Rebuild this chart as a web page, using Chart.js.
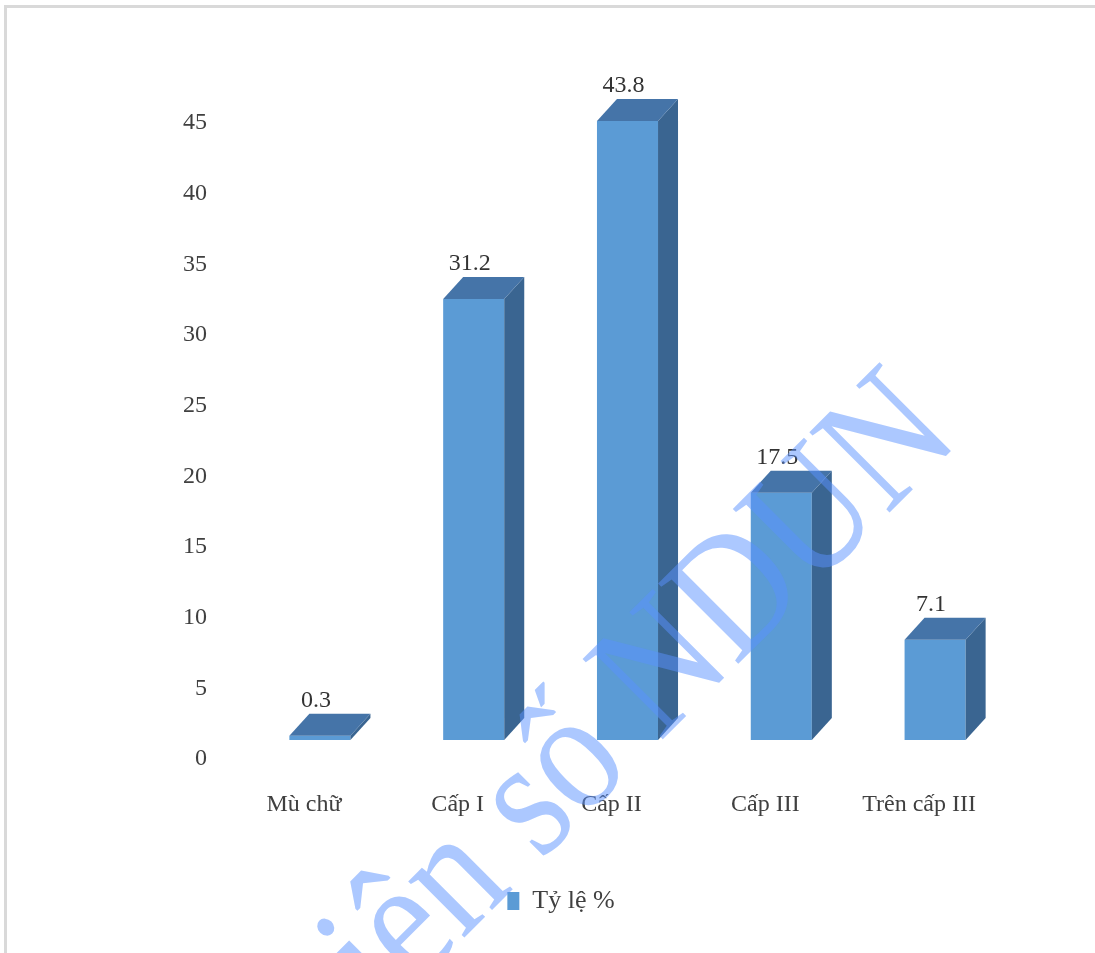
<!DOCTYPE html>
<html>
<head>
<meta charset="utf-8">
<script src="https://cdn.jsdelivr.net/npm/chart.js@4.4.1/dist/chart.umd.min.js"></script>
<style>
html, body { margin: 0; padding: 0; background: #fff; }
#frame { position: absolute; left: 4px; top: 5px; width: 1100px; height: 960px; border-top: 3px solid #d9d9d9; border-left: 3px solid #d9d9d9; box-sizing: border-box; }
#wrap { position: absolute; left: 0; top: 0; width: 1095px; height: 953px; }
</style>
</head>
<body>
<div id="frame"></div>
<div id="wrap"><canvas id="chart"></canvas></div>
<script>
// data
const categories = ['Mù chữ', 'Cấp I', 'Cấp II', 'Cấp III', 'Trên cấp III'];
const values = [0.3, 31.2, 43.8, 17.5, 7.1];
const seriesLabel = 'Tỷ lệ %';
const yMin = 0, yMax = 45, yStep = 5;

const FONT = '"Liberation Serif", "Times New Roman", serif';
const DEPTH_X = 20, DEPTH_Y = 22;

// fake 3D: side + top faces and value labels, from the bar elements
const box3d = {
    id: 'box3d',
    afterDatasetsDraw(chart) {
        const ctx = chart.ctx;
        const meta = chart.getDatasetMeta(0);
        ctx.save();
        meta.data.forEach((bar, i) => {
            const l = bar.x - bar.width / 2, r = bar.x + bar.width / 2;
            const top = bar.y, base = bar.base;
            // side
            ctx.fillStyle = '#3A6591';
            ctx.beginPath();
            ctx.moveTo(r, top);
            ctx.lineTo(r + DEPTH_X, top - DEPTH_Y);
            ctx.lineTo(r + DEPTH_X, base - DEPTH_Y);
            ctx.lineTo(r, base);
            ctx.closePath();
            ctx.fill();
            // top
            ctx.fillStyle = '#4574A8';
            ctx.beginPath();
            ctx.moveTo(l, top);
            ctx.lineTo(l + DEPTH_X, top - DEPTH_Y);
            ctx.lineTo(r + DEPTH_X, top - DEPTH_Y);
            ctx.lineTo(r, top);
            ctx.closePath();
            ctx.fill();
            // value
            ctx.fillStyle = '#333';
            ctx.font = '24px ' + FONT;
            ctx.textAlign = 'center';
            ctx.textBaseline = 'middle';
            ctx.fillText(String(values[i]), bar.x - 4, top - 35);
        });
        ctx.restore();
    }
};

// watermark of the source document
const watermark = {
    id: 'watermark',
    afterDraw(chart) {
        const ctx = chart.ctx;
        ctx.save();
        ctx.translate(962, 440);
        ctx.rotate(-Math.PI / 4);
        ctx.scale(1, 1.17);
        ctx.font = '148px ' + FONT;
        ctx.fillStyle = 'rgba(90, 145, 255, 0.5)';
        ctx.textAlign = 'right';
        ctx.textBaseline = 'alphabetic';
        ctx.fillText('Thư viện số NDUN', 0, 0);
        ctx.restore();
    }
};

new Chart(document.getElementById('chart'), {
    type: 'bar',
    data: {
        labels: categories,
        datasets: [{
            label: seriesLabel,
            data: values,
            backgroundColor: '#5B9BD5',
            borderWidth: 0,
            barPercentage: 0.397,
            categoryPercentage: 1
        }]
    },
    options: {
        responsive: true,
        maintainAspectRatio: false,
        animation: false,
        layout: { padding: { left: 110, right: 83, top: 104, bottom: 29 } },
        plugins: {
            legend: {
                position: 'bottom',
                labels: {
                    boxWidth: 12, boxHeight: 18, padding: 10,
                    color: '#404040',
                    font: { family: FONT, size: 26 }
                }
            },
            tooltip: { enabled: false }
        },
        scales: {
            x: {
                grid: { display: false, drawTicks: false },
                border: { display: false },
                ticks: { color: '#404040', font: { family: FONT, size: 24 }, padding: 50, labelOffset: -16 },
                afterFit: s => { s.height = 138; }
            },
            y: {
                min: yMin, max: yMax,
                grid: { display: false, drawTicks: false },
                border: { display: false },
                ticks: { stepSize: yStep, color: '#404040', font: { family: FONT, size: 24 }, padding: 36, labelOffset: 19 },
                afterFit: s => { s.width = 133; }
            }
        }
    },
    plugins: [box3d, watermark]
});
</script>
</body>
</html>
